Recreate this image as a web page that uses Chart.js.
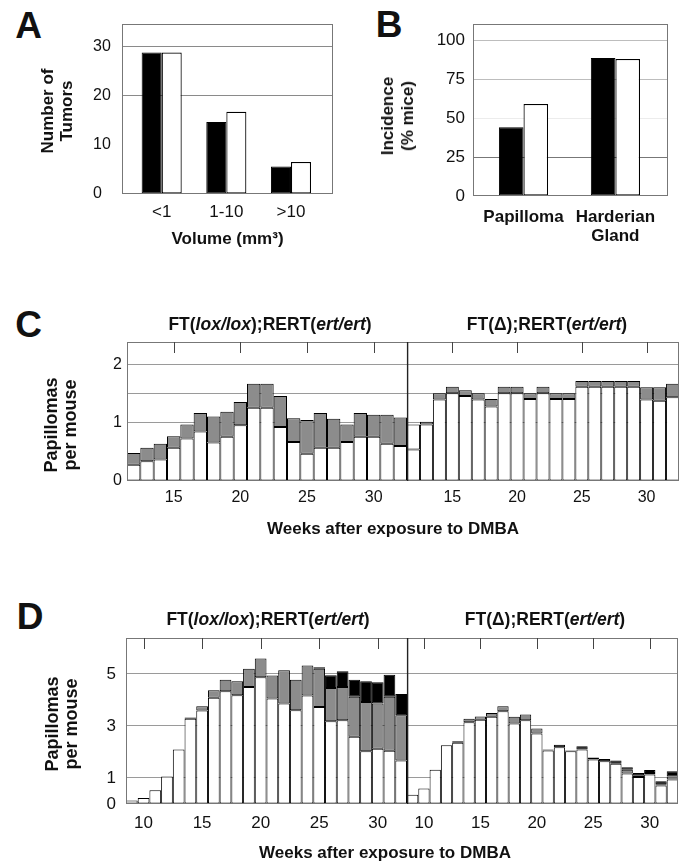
<!DOCTYPE html>
<html>
<head>
<meta charset="utf-8">
<script src="https://cdn.jsdelivr.net/npm/chart.js@4.4.1/dist/chart.umd.min.js"></script>
<style>
  body { margin: 0; background: #fff; }
  #fig { position: relative; width: 682px; height: 862px; overflow: hidden; font-family: "Liberation Sans", Arial, sans-serif; color: #111; }
  #fig canvas { position: absolute; }
  .txt { position: absolute; transform: translate(-50%, -50%); line-height: 1; white-space: nowrap; font-weight: bold; }
  .rot { transform: translate(-50%, -50%) rotate(-90deg); text-align: center; }
</style>
</head>
<body>
<div id="fig"></div>
<script>
// Panel A: tumors by volume
const volumeLabels = ["<1", "1-10", ">10"];
const tumorsBlack = [28.7, 14.6, 5.6];
const tumorsWhite = [28.7, 16.7, 6.5];

// Panel B: incidence
const tissueLabels = ["Papilloma", ["Harderian", "Gland"]];
const incidenceBlack = [44.2, 88.5];
const incidenceWhite = [59, 87.9];

// Panel C: papillomas per mouse, weeks 12-32
const weeksC = [12, 13, 14, 15, 16, 17, 18, 19, 20, 21, 22, 23, 24, 25, 26, 27, 28, 29, 30, 31, 32];
const cLoxWhite = [0.28, 0.34, 0.37, 0.57, 0.73, 0.85, 0.66, 0.76, 0.96, 1.26, 1.26, 0.93, 0.67, 0.47, 0.57, 0.57, 0.67, 0.76, 0.76, 0.64, 0.60];
const cLoxGray = [0.20, 0.23, 0.27, 0.20, 0.24, 0.32, 0.45, 0.43, 0.40, 0.41, 0.41, 0.53, 0.41, 0.58, 0.60, 0.50, 0.30, 0.41, 0.38, 0.50, 0.49];
const cDeltaWhite = [0.54, 0.97, 1.40, 1.51, 1.46, 1.40, 1.28, 1.51, 1.51, 1.41, 1.51, 1.41, 1.41, 1.62, 1.62, 1.62, 1.62, 1.62, 1.40, 1.38, 1.44];
const cDeltaGray = [0.43, 0.05, 0.11, 0.11, 0.10, 0.11, 0.13, 0.11, 0.11, 0.10, 0.11, 0.10, 0.10, 0.10, 0.10, 0.10, 0.10, 0.10, 0.21, 0.23, 0.23];

// Panel D: papillomas per mouse, weeks 9-32
const weeksD = [9, 10, 11, 12, 13, 14, 15, 16, 17, 18, 19, 20, 21, 22, 23, 24, 25, 26, 27, 28, 29, 30, 31, 32];
const dLoxWhite = [0.13, 0.23, 0.53, 1.06, 2.09, 3.28, 3.59, 4.08, 4.33, 4.18, 4.50, 4.87, 4.05, 3.86, 3.60, 4.17, 3.73, 3.18, 3.22, 2.58, 2.03, 2.12, 2.05, 1.67];
const dLoxGray = [0, 0, 0, 0, 0, 0, 0.17, 0.29, 0.45, 0.54, 0.70, 0.72, 0.89, 1.28, 1.18, 1.15, 1.47, 1.28, 1.28, 1.54, 1.89, 1.74, 2.07, 1.74];
const dLoxBlack = [0, 0, 0, 0, 0, 0.04, 0, 0, 0, 0, 0, 0, 0, 0, 0, 0, 0.06, 0.49, 0.60, 0.66, 0.80, 0.82, 0.85, 0.82];
const dDeltaWhite = [0.36, 0.60, 1.32, 2.26, 2.35, 3.14, 3.24, 3.35, 3.56, 3.09, 3.22, 2.71, 2.06, 2.18, 2.03, 2.09, 1.71, 1.64, 1.55, 1.17, 1.04, 1.13, 0.71, 0.94];
const dDeltaGray = [0, 0, 0, 0, 0, 0.14, 0.12, 0.15, 0.20, 0.26, 0.22, 0.19, 0, 0, 0, 0, 0, 0, 0, 0.15, 0.05, 0.06, 0.05, 0.12];
const dDeltaBlack = [0, 0, 0, 0, 0.06, 0, 0, 0, 0, 0, 0, 0, 0.03, 0.10, 0.03, 0.13, 0.08, 0.09, 0.12, 0.09, 0.10, 0.12, 0.11, 0.20];

const FONT = '"Liberation Sans", Arial, sans-serif';
const GRAY = "#8c8c8c";
const GRID = "#9a9a9a";
const FRAME = "#777";
const PAD = 28;

Chart.defaults.font.family = FONT;
Chart.defaults.color = "#111";

const fig = document.getElementById("fig");

function makeCanvas(box) {
  const c = document.createElement("canvas");
  const w = box.x1 - box.x0 + box.yW + 2 * PAD;
  const h = box.y1 - box.y0 + box.xH + 2 * PAD;
  c.width = w;
  c.height = h;
  c.style.left = (box.x0 - box.yW - PAD) + "px";
  c.style.top = (box.y0 - PAD) + "px";
  c.style.width = w + "px";
  c.style.height = h + "px";
  fig.appendChild(c);
  return c;
}

function addText(html, x, y, size, opts = {}) {
  const d = document.createElement("div");
  d.className = "txt" + (opts.rotate ? " rot" : "");
  d.innerHTML = html;
  d.style.left = x + "px";
  d.style.top = y + "px";
  d.style.fontSize = size + "px";
  if (opts.lineHeight) d.style.lineHeight = opts.lineHeight + "px";
  fig.appendChild(d);
}

// box outline, split divider and the short tick marks under the top edge
const framePlugin = {
  id: "frame",
  afterDatasetsDraw(chart, args, opts) {
    const { ctx, chartArea: a } = chart;
    const l = a.left + 0.5, r = a.right - 0.5, t = a.top + 0.5, b = a.bottom - 0.5;
    const sides = opts.sides || {};
    const seg = (x1, y1, x2, y2, color, width) => {
      ctx.beginPath();
      ctx.strokeStyle = color;
      ctx.lineWidth = width;
      ctx.moveTo(x1, y1);
      ctx.lineTo(x2, y2);
      ctx.stroke();
    };
    ctx.save();
    if (sides.top) seg(a.left, t, a.right, t, sides.top, 1);
    if (sides.bottom) seg(a.left, b, a.right, b, sides.bottom, 1);
    if (sides.left) seg(l, a.top, l, a.bottom, sides.left, 1);
    if (sides.right) seg(r, a.top, r, a.bottom, sides.right, 1);
    if (sides.divider) seg(a.left + 0.6, a.top, a.left + 0.6, a.bottom, sides.divider, 1.4);
    const xs = chart.scales.x;
    (opts.marks || []).forEach((w) => {
      const x = Math.round(xs.getPixelForValue(opts.weeks.indexOf(w))) + 0.5;
      seg(x, a.top, x, a.top + 11, "#444", 1);
    });
    ctx.restore();
  }
};

function groupChart(box, cfg) {
  return new Chart(makeCanvas(box), {
    type: "bar",
    data: {
      datasets: [
        { data: cfg.black.map((y, i) => ({ x: i + 1, y })), backgroundColor: "#000", borderColor: "#000", borderWidth: 1 },
        { data: cfg.white.map((y, i) => ({ x: i + 1, y })), backgroundColor: "#fff", borderColor: "#000", borderWidth: 1.2 }
      ]
    },
    options: {
      responsive: false,
      animation: false,
      layout: { padding: PAD },
      datasets: { bar: { barPercentage: 1, categoryPercentage: cfg.catPct, borderSkipped: false, inflateAmount: 0 } },
      plugins: {
        legend: { display: false },
        tooltip: { enabled: false },
        frame: { sides: { top: FRAME, bottom: FRAME, left: FRAME, right: FRAME } }
      },
      scales: {
        x: {
          type: "linear",
          offset: false,
          min: cfg.xMin,
          max: cfg.xMax,
          afterFit: (s) => { s.height = box.xH; },
          afterBuildTicks: (s) => { s.ticks = cfg.labels.map((_, i) => ({ value: i + 1 })); },
          grid: { display: false, drawTicks: false },
          border: { display: false },
          ticks: {
            autoSkip: false, maxRotation: 0, minRotation: 0,
            padding: cfg.xPad,
            font: cfg.xFont,
            callback: (v) => cfg.labels[v - 1]
          }
        },
        y: {
          min: 0,
          max: cfg.yMax,
          afterFit: (s) => { s.width = box.yW; },
          afterBuildTicks: (s) => { s.ticks = cfg.yTicks.map((value) => ({ value })); },
          border: { display: false },
          grid: { drawTicks: false, color: (c) => cfg.gridColors[c.tick.value] || "rgba(0,0,0,0)" },
          ticks: { padding: cfg.yPad, crossAlign: cfg.crossAlign, font: { size: cfg.yFontSize } }
        }
      }
    },
    plugins: [framePlugin]
  });
}

function segment(data, color) {
  return {
    data,
    backgroundColor: color,
    borderColor: "#000",
    borderWidth: 1,
    borderSkipped: false,
    inflateAmount: 0,
    barPercentage: 1,
    categoryPercentage: 1
  };
}

function weekChart(box, cfg) {
  return new Chart(makeCanvas(box), {
    type: "bar",
    data: { labels: cfg.weeks, datasets: cfg.datasets },
    options: {
      responsive: false,
      animation: false,
      layout: { padding: PAD },
      plugins: {
        legend: { display: false },
        tooltip: { enabled: false },
        frame: { sides: cfg.sides, weeks: cfg.weeks, marks: cfg.weeks.filter((w) => w % 5 === 0) }
      },
      scales: {
        x: {
          stacked: true,
          offset: true,
          afterFit: (s) => { s.height = box.xH; },
          grid: { display: false, drawTicks: false },
          border: { display: false },
          ticks: {
            autoSkip: false, maxRotation: 0, minRotation: 0,
            padding: cfg.xPad,
            font: { size: cfg.fontSize },
            callback(v) {
              const w = this.getLabelForValue(v);
              return w % 5 === 0 ? String(w) : "";
            }
          }
        },
        y: {
          stacked: true,
          min: 0,
          max: cfg.yMax,
          afterFit: (s) => { s.width = box.yW; },
          afterBuildTicks: (s) => { s.ticks = cfg.yTicks.map((value) => ({ value })); },
          border: { display: false },
          grid: { drawTicks: false, color: (c) => (cfg.gridValues.includes(c.tick.value) ? GRID : "rgba(0,0,0,0)") },
          ticks: {
            display: box.yW > 0,
            padding: cfg.yPad,
            font: { size: cfg.fontSize },
            callback: (v) => (Number.isInteger(v) ? String(v) : "")
          }
        }
      }
    },
    plugins: [framePlugin]
  });
}

// A
groupChart({ x0: 122, x1: 333, y0: 24, y1: 194, yW: 29, xH: 30 }, {
  labels: volumeLabels, black: tumorsBlack, white: tumorsWhite,
  xMin: 0.386, xMax: 3.65, catPct: 0.62,
  yMax: 34.5, yTicks: [0, 10, 20, 30], gridColors: { 20: "#8a8a8a", 30: "#8a8a8a" },
  xPad: 8, xFont: { size: 17 }, yPad: 4, crossAlign: "far", yFontSize: 16
});

// B
groupChart({ x0: 473, x1: 668, y0: 24, y1: 196, yW: 42, xH: 50 }, {
  labels: tissueLabels, black: incidenceBlack, white: incidenceWhite,
  xMin: 0.4505, xMax: 2.572, catPct: 0.535,
  yMax: 110.4, yTicks: [0, 25, 50, 75, 100],
  gridColors: { 25: "#777", 50: "#ececec", 75: "#bdbdbd", 100: "#bdbdbd" },
  xPad: 12, xFont: { size: 17, weight: "bold", lineHeight: 1.1 }, yPad: 8, crossAlign: "near", yFontSize: 17
});

// C
const cY = { yMax: 2.39, yTicks: [0, 1, 1.5, 2], gridValues: [1, 1.5, 2], fontSize: 16, xPad: 7, yPad: 5 };
weekChart({ x0: 127, x1: 407, y0: 342, y1: 481, yW: 30, xH: 30 }, Object.assign({}, cY, {
  weeks: weeksC,
  datasets: [segment(cLoxWhite, "#fff"), segment(cLoxGray, GRAY)],
  sides: { top: FRAME, bottom: FRAME, left: FRAME }
}));
weekChart({ x0: 407, x1: 679, y0: 342, y1: 481, yW: 0, xH: 30 }, Object.assign({}, cY, {
  weeks: weeksC,
  datasets: [
    segment(cDeltaWhite, "#fff"),
    segment(cDeltaGray, (c) => (c.dataIndex === 0 ? "#fff" : GRAY))
  ],
  sides: { top: FRAME, bottom: FRAME, right: FRAME, divider: "#222" }
}));

// D
const dY = { yMax: 6.38, yTicks: [0, 1, 3, 5], gridValues: [1, 3, 5], fontSize: 17, xPad: 9, yPad: 10 };
weekChart({ x0: 126, x1: 407, y0: 638, y1: 804, yW: 30, xH: 30 }, Object.assign({}, dY, {
  weeks: weeksD,
  datasets: [segment(dLoxWhite, "#fff"), segment(dLoxGray, GRAY), segment(dLoxBlack, "#000")],
  sides: { top: FRAME, bottom: FRAME, left: FRAME }
}));
weekChart({ x0: 407, x1: 678, y0: 638, y1: 804, yW: 0, xH: 30 }, Object.assign({}, dY, {
  weeks: weeksD,
  datasets: [segment(dDeltaWhite, "#fff"), segment(dDeltaGray, GRAY), segment(dDeltaBlack, "#000")],
  sides: { top: FRAME, bottom: FRAME, right: FRAME, divider: "#222" }
}));

// text
addText("A", 28.5, 25, 37);
addText("B", 389, 24, 37);
addText("C", 28.5, 324, 37);
addText("D", 30, 616, 37);

addText("Number of<br>Tumors", 56.5, 110.5, 17, { rotate: true, lineHeight: 19 });
addText("Volume (mm³)", 227.5, 237.5, 17);
addText("Incidence<br>(% mice)", 398, 116, 17, { rotate: true, lineHeight: 20 });

const loxTitle = "FT(<i>lox/lox</i>);RERT(<i>ert/ert</i>)";
const deltaTitle = "FT(Δ);RERT(<i>ert/ert</i>)";
addText(loxTitle, 270, 325, 17.5);
addText(deltaTitle, 547, 325, 17.5);
addText("Papillomas<br>per mouse", 61, 425, 18, { rotate: true, lineHeight: 19 });
addText("Weeks after exposure to DMBA", 393, 528, 17);

addText(loxTitle, 268, 620, 17.5);
addText(deltaTitle, 545, 620, 17.5);
addText("Papillomas<br>per mouse", 62, 724, 18, { rotate: true, lineHeight: 19 });
addText("Weeks after exposure to DMBA", 385, 852, 17);
</script>
</body>
</html>
